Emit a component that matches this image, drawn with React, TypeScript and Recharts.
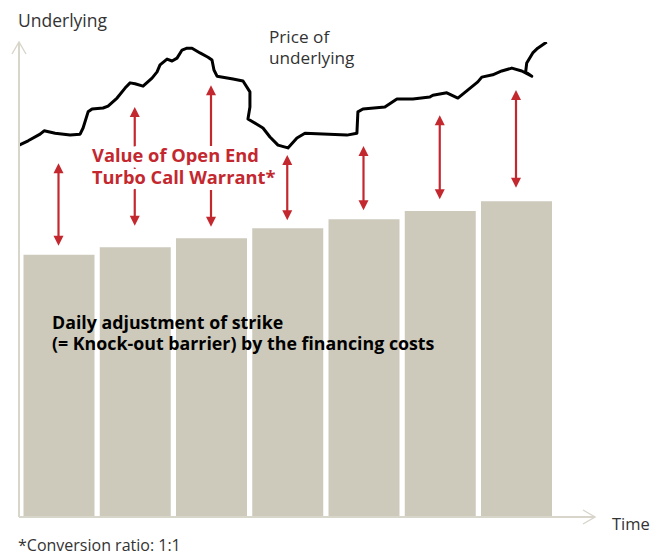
import React from "react";
import { ComposedChart, Bar, Line, XAxis, YAxis } from "recharts";

// time steps (one bar per day) and strike / knock-out barrier level
const periods = ["d1", "d2", "d3", "d4", "d5", "d6", "d7"];
const strikeLevels = [55.2, 56.8, 58.7, 60.8, 62.7, 64.4, 66.5];

// red double arrows: warrant value between strike and price
const warrantLow = [57.1, 61.3, 61.1, 62.5, 64.6, 66.9, 69.3];
const warrantHigh = [74.5, 86.3, 90.9, 76.2, 78.1, 84.6, 89.9];

// price of underlying (hand-drawn path), time in bar units
const priceTime = [
  0.482, 0.6, 0.757, 0.81, 0.954, 1.151, 1.282, 1.321, 1.387, 1.439, 1.584, 1.649, 1.767, 1.872, 1.938,
  2.003, 2.108, 2.226, 2.292, 2.331, 2.423, 2.489, 2.554, 2.62, 2.685, 2.751, 2.856, 2.961, 3.013, 3.039,
  3.079, 3.289, 3.42, 3.511, 3.511, 3.485, 3.682, 3.774, 3.879, 4.01, 4.128, 4.233, 4.784, 4.915, 4.928,
  4.994, 5.282, 5.44, 5.649, 5.872, 5.912, 6.095, 6.24, 6.357, 6.502, 6.554, 6.698, 6.816, 6.948, 7.079,
  7.21, 7.13, 7.144, 7.223, 7.288, 7.406,
];
const priceLevel = [
  78.3, 79.2, 80.6, 81.3, 80.8, 80.4, 80.6, 81.9, 85.3, 85.9, 86.1, 86.5, 88.2, 90.3, 91.4,
  91.2, 90.7, 92.4, 93.7, 95.2, 96.4, 96.0, 96.6, 98.3, 98.7, 98.7, 97.7, 96.8, 96.2, 94.1,
  92.8, 92.2, 91.8, 89.5, 86.3, 83.8, 81.9, 80.0, 78.3, 77.7, 79.8, 80.8, 80.4, 80.8, 85.3,
  85.9, 86.3, 88.0, 88.0, 88.4, 88.8, 89.3, 88.2, 89.7, 91.6, 92.6, 93.1, 93.9, 94.5, 93.9,
  92.8, 93.7, 95.6, 97.7, 98.7, 100.0,
];

const barData = periods.map((d, i) => ({
  d,
  strike: strikeLevels[i],
  warrant: [warrantLow[i], warrantHigh[i]],
}));
const priceData = priceTime.map((t, i) => ({ t, price: priceLevel[i] }));

const AXIS = "#d8d5ca";
const RED = "#c4282f";
const catPadding = { left: 1.5, right: 40.75 };

const WarrantArrow = (props: any) => {
  const { x, y, width, height } = props;
  const cx = x + width / 2;
  const top = y;
  const bottom = y + height;
  const head = 10;
  const hw = 5;
  return (
    <g>
      <line x1={cx} y1={top + head - 1} x2={cx} y2={bottom - head + 1} stroke={RED} strokeWidth={2.2} />
      <path d={`M${cx},${top} L${cx - hw},${top + head} L${cx + hw},${top + head} Z`} fill={RED} />
      <path d={`M${cx},${bottom} L${cx - hw},${bottom - head} L${cx + hw},${bottom - head} Z`} fill={RED} />
    </g>
  );
};

const font = "'Open Sans', sans-serif";

export default function App() {
  return (
    <div style={{ position: "absolute", left: 0, top: 0, width: 663, height: 555, background: "#fff" }}>
      <ComposedChart
        width={663}
        height={555}
        data={barData}
        margin={{ top: 42, right: 68, bottom: 37, left: 18 }}
      >
        <defs>
          <marker
            id="axisArrow"
            viewBox="0 0 14 16"
            refX={13}
            refY={8}
            markerWidth={14}
            markerHeight={16}
            markerUnits="userSpaceOnUse"
            orient="auto-start-reverse"
          >
            <path d="M1,1 L13,8 L1,15" fill="none" stroke={AXIS} strokeWidth={1.4} />
          </marker>
        </defs>
        <XAxis
          xAxisId="main"
          dataKey="d"
          padding={catPadding}
          tick={false}
          tickLine={false}
          height={1}
          axisLine={{ stroke: AXIS, strokeWidth: 2, markerEnd: "url(#axisArrow)" }}
        />
        <XAxis xAxisId="arr" dataKey="d" padding={catPadding} orientation="top" height={0} hide />
        <XAxis
          xAxisId="time"
          type="number"
          dataKey="t"
          domain={[0.48, 8.04]}
          allowDataOverflow
          orientation="top"
          height={0}
          hide
        />
        <YAxis
          type="number"
          domain={[0, 100]}
          allowDataOverflow
          tick={false}
          tickLine={false}
          width={1}
          axisLine={{ stroke: AXIS, strokeWidth: 2, markerStart: "url(#axisArrow)" }}
        />
        <Bar xAxisId="main" dataKey="strike" fill="#cdcabc" barSize={71} isAnimationActive={false} />
        <Bar xAxisId="arr" dataKey="warrant" barSize={12} shape={WarrantArrow} isAnimationActive={false} />
        <Line
          xAxisId="time"
          data={priceData}
          dataKey="price"
          type="linear"
          stroke="#000"
          strokeWidth={3}
          strokeLinejoin="round"
          dot={false}
          activeDot={false}
          isAnimationActive={false}
        />
      </ComposedChart>
      <svg
        width={663}
        height={555}
        style={{ position: "absolute", left: 0, top: 0, pointerEvents: "none" }}
      >
        <text x={18} y={27} fontFamily={font} fontSize={17.5} fill="#333">Underlying</text>
        <text x={612} y={530} fontFamily={font} fontSize={16.5} fill="#333">Time</text>
        <text fontFamily={font} fontSize={17.2} fill="#333">
          <tspan x={269} y={43}>Price of</tspan>
          <tspan x={269} y={64}>underlying</tspan>
        </text>
        <text
          fontFamily={font}
          fontSize={18.3}
          fontWeight="bold"
          fill={RED}
          stroke="#fff"
          strokeWidth={12}
          paintOrder="stroke"
          strokeLinejoin="round"
        >
          <tspan x={92} y={162}>Value of Open End</tspan>
          <tspan x={92} y={184}>Turbo Call Warrant*</tspan>
        </text>
        <text fontFamily={font} fontSize={17.8} fontWeight="bold" fill="#000">
          <tspan x={52} y={329}>Daily adjustment of strike</tspan>
          <tspan x={52} y={350}>(= Knock-out barrier) by the financing costs</tspan>
        </text>
        <text x={18} y={551} fontFamily={font} fontSize={16} fill="#333">*Conversion ratio: 1:1</text>
      </svg>
    </div>
  );
}
